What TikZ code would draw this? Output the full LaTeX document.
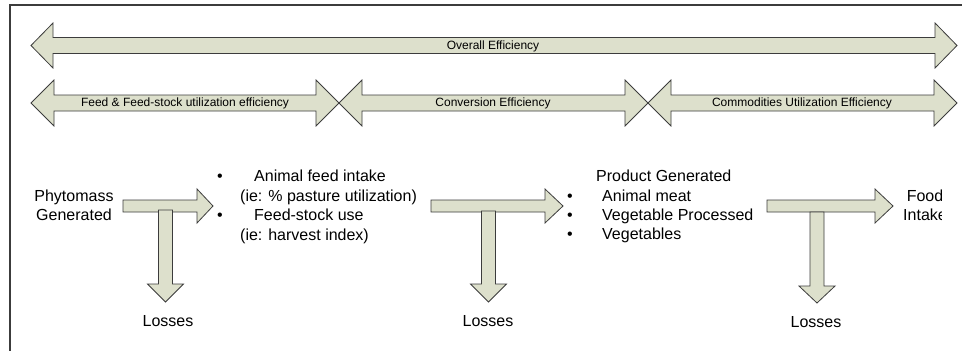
\documentclass[tikz,border=0pt]{standalone}
\usepackage{fontspec}
\setmainfont{Liberation Sans}
\definecolor{arrowfill}{RGB}{221,224,204}
\definecolor{edgegray}{RGB}{60,60,60}
\tikzset{
  arrowshape/.style={fill=arrowfill, draw=edgegray, line width=0.8pt, line join=miter},
  framestyle/.style={draw=edgegray, line width=1.1pt},
  toplabel/.style={font=\fontsize{12}{14}\selectfont, inner sep=0pt, anchor=base},
  bodytext/.style={font=\fontsize{16}{19.3}\selectfont, inner sep=0pt, anchor=base},
  bodyleft/.style={bodytext, anchor=base west},
}
% double arrow: xl, xr, yc, head half-height, head length
\newcommand{\dblarrow}[5]{%
  \filldraw[arrowshape] (#1,#3) -- (#1+#5,#3-#4) -- (#1+#5,#3-8) -- (#2-#5,#3-8)
    -- (#2-#5,#3-#4) -- (#2,#3) -- (#2-#5,#3+#4) -- (#2-#5,#3+8) -- (#1+#5,#3+8)
    -- (#1+#5,#3+#4) -- cycle;}
% horizontal arrow: shaft start, head base, tip, yc
\newcommand{\harrowT}[4]{%
  \filldraw[arrowshape] (#1,#4-6) -- (#2,#4-6) -- (#2,#4-17) -- (#3,#4)
    -- (#2,#4+17) -- (#2,#4+6) -- (#1,#4+6) -- cycle;}
% vertical arrow: cx, top, head base, tip
\newcommand{\varrowT}[4]{%
  \filldraw[arrowshape] (#1-7,#2) -- (#1+7,#2) -- (#1+7,#3) -- (#1+18,#3)
    -- (#1,#4) -- (#1-18,#3) -- (#1-7,#3) -- cycle;}
\begin{document}
\begin{tikzpicture}[x=1pt,y=-1pt]
\useasboundingbox (0,0) rectangle (962,351);
\fill[white] (0,0) rectangle (962,351);
% frame
\draw[framestyle] (10,352) -- (10,5) -- (963,5);
% top efficiency arrows
\dblarrow{31}{957}{45.5}{22.5}{22}
\dblarrow{31}{339}{103}{23}{23}
\dblarrow{339}{648}{103}{23}{23}
\dblarrow{648}{957}{103}{23}{23}
\node[toplabel] (overall) at (493,49) {Overall Efficiency};
\node[toplabel] (feedeff) at (185,106.5) {Feed \& Feed-stock utilization efficiency};
\node[toplabel] (conveff) at (493,106.5) {Conversion Efficiency};
\node[toplabel] (commeff) at (802,106.5) {Commodities Utilization Efficiency};
% T arrows
\harrowT{123}{197}{213}{206}
\varrowT{165.5}{210}{284}{302}
\harrowT{431}{545}{563}{206}
\varrowT{488.5}{211}{284}{302}
\harrowT{767}{875}{893}{206}
\varrowT{817}{212}{286}{303}
% texts
\node[bodytext, align=center] (phyto) at (74,220.5) {Phytomass\\Generated};
\node[bodytext] (bul1) at (220,181.7) {•};
\node[bodyleft] (feedintake) at (254,181.7) {Animal feed intake};
\node[bodyleft] (pasture) at (240,201.7) {(ie: \% pasture utilization)};
\node[bodytext] (bul2) at (220,220.7) {•};
\node[bodyleft] (feedstock) at (254,220.7) {Feed-stock use};
\node[bodyleft] (harvest) at (240,240) {(ie: harvest index)};
\node[bodyleft] (product) at (596,181.7) {Product Generated};
\node[bodytext] (bul3) at (570,201) {•};
\node[bodyleft] (meat) at (602,201) {Animal meat};
\node[bodytext] (bul4) at (570,220.3) {•};
\node[bodyleft] (vegproc) at (602,220.3) {Vegetable Processed};
\node[bodytext] (bul5) at (570,239.6) {•};
\node[bodyleft] (veg) at (602,239.6) {Vegetables};
\node[bodytext] (loss1) at (168,326.7) {Losses};
\node[bodytext] (loss2) at (488,326.7) {Losses};
\node[bodytext] (loss3) at (816,327) {Losses};
\begin{scope}
\clip (880,150) rectangle (941,250);
\node[bodytext, align=center] (food) at (925,220.5) {Food\\Intake};
\end{scope}
\end{tikzpicture}
\end{document}
